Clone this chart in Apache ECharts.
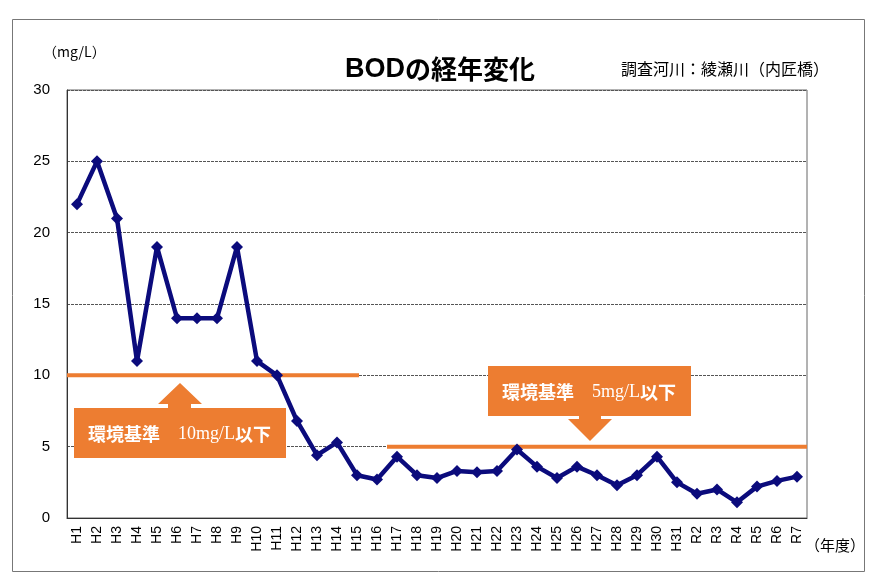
<!DOCTYPE html>
<html>
<head>
<meta charset="utf-8">
<script src="https://cdn.jsdelivr.net/npm/echarts@6/dist/echarts.min.js"></script>
<style>html,body{margin:0;padding:0;background:#fff}#c{width:880px;height:586px}</style>
</head>
<body>
<div id="c"></div>
<script>
const categories = ['H1','H2','H3','H4','H5','H6','H7','H8','H9','H10','H11','H12','H13','H14','H15','H16','H17','H18','H19','H20','H21','H22','H23','H24','H25','H26','H27','H28','H29','H30','H31','R2','R3','R4','R5','R6','R7'];
const bodValues = [22,25,21,11,19,14,14,14,19,11,10,6.8,4.4,5.3,3.0,2.7,4.3,3.0,2.8,3.3,3.2,3.3,4.8,3.6,2.8,3.6,3.0,2.3,3.0,4.3,2.5,1.7,2.0,1.1,2.2,2.6,2.9];
const standard10 = [[0,10],[14.6,10]];
const standard5 = [[16,5],[37,5]];
const yTicks = {min:0, max:30, interval:5};

const orange = '#ED7D31';
const navy = '#0b0b7c';
const chart = echarts.init(document.getElementById('c'), null, {renderer:'canvas'});
const sans = '"Liberation Sans", Arial, sans-serif';
const cjk = '"Noto Sans CJK JP", sans-serif';

const boxText = (label, num) => ({
  type:'text',
  style:{
    text:'{k|' + label + '}{n|' + num + '}{k|以下}',
    rich:{
      k:{fill:'#fff', fontFamily:cjk, fontWeight:'bold', fontSize:18},
      n:{fill:'#fff', fontFamily:'"Liberation Serif","DejaVu Serif",serif', fontSize:18}
    },
    verticalAlign:'middle'
  }
});

const option = {
  backgroundColor:'#fff',
  animation:false,
  title:{
    text:'{a|BOD}{b|の経年変化}', left:'center', top:51,
    textStyle:{
      rich:{
        a:{fontFamily:sans, fontWeight:'bold', fontSize:27, color:'#000'},
        b:{fontFamily:cjk, fontWeight:'bold', fontSize:26, color:'#000'}
      }
    }
  },
  grid:{left:67, right:73, top:90, bottom:68, show:true, borderColor:'#666', borderWidth:1, containLabel:false},
  xAxis:[
    {type:'category', data:categories, boundaryGap:true,
     axisLine:{lineStyle:{color:'#333', width:1}},
     axisTick:{inside:true, length:5, lineStyle:{color:'#333'}},
     axisLabel:{rotate:90, interval:0, margin:8, fontSize:14, color:'#000', fontFamily:sans}},
    {type:'value', min:0, max:categories.length, show:false}
  ],
  yAxis:{
    type:'value', min:yTicks.min, max:yTicks.max, interval:yTicks.interval,
    axisLine:{show:true, lineStyle:{color:'#333'}},
    axisTick:{show:false},
    axisLabel:{margin:17, fontSize:15, color:'#000', fontFamily:sans},
    splitLine:{lineStyle:{type:[3,1], color:'#555', width:1}}
  },
  series:[
    {type:'line', xAxisIndex:1, data:standard10, symbol:'none', lineStyle:{color:orange, width:4}, z:2, silent:true},
    {type:'line', xAxisIndex:1, data:standard5, symbol:'none', lineStyle:{color:orange, width:4}, z:2, silent:true},
    {type:'line', data:bodValues, symbol:'diamond', symbolSize:12,
     lineStyle:{color:navy, width:4.5}, itemStyle:{color:navy}, z:5}
  ],
  graphic:[
    {type:'rect', shape:{x:12.5, y:19.5, width:852, height:552}, style:{fill:'none', stroke:'#777', lineWidth:1}, z:-1},
    {type:'text', left:43, top:45, style:{text:'（mg/L）', fontFamily:cjk, fontSize:14, fill:'#000'}},
    {type:'text', right:51, top:61, style:{text:'調査河川：綾瀬川（内匠橋）', fontFamily:cjk, fontSize:16, fill:'#000'}},
    {type:'text', left:805, top:538, style:{text:'（年度）', fontFamily:cjk, fontSize:15, fill:'#000'}},
    // box 1 with up arrow
    {type:'polygon', shape:{points:[[158,404],[180,383],[202,404],[191,404],[191,409],[168,409],[168,404]]}, style:{fill:orange}, z:10},
    {type:'rect', shape:{x:74, y:408, width:212, height:50}, style:{fill:orange}, z:10},
    Object.assign(boxText('環境基準　', '10mg/L'), {x:88, y:434, z:11}),
    // box 2 with down arrow
    {type:'rect', shape:{x:488, y:366, width:203, height:50}, style:{fill:orange}, z:10},
    {type:'polygon', shape:{points:[[579,415],[601,415],[601,419],[612,419],[590,441],[568,419],[579,419]]}, style:{fill:orange}, z:10},
    Object.assign(boxText('環境基準　', '5mg/L'), {x:502, y:392, z:11})
  ]
};
chart.setOption(option);
</script>
</body>
</html>
